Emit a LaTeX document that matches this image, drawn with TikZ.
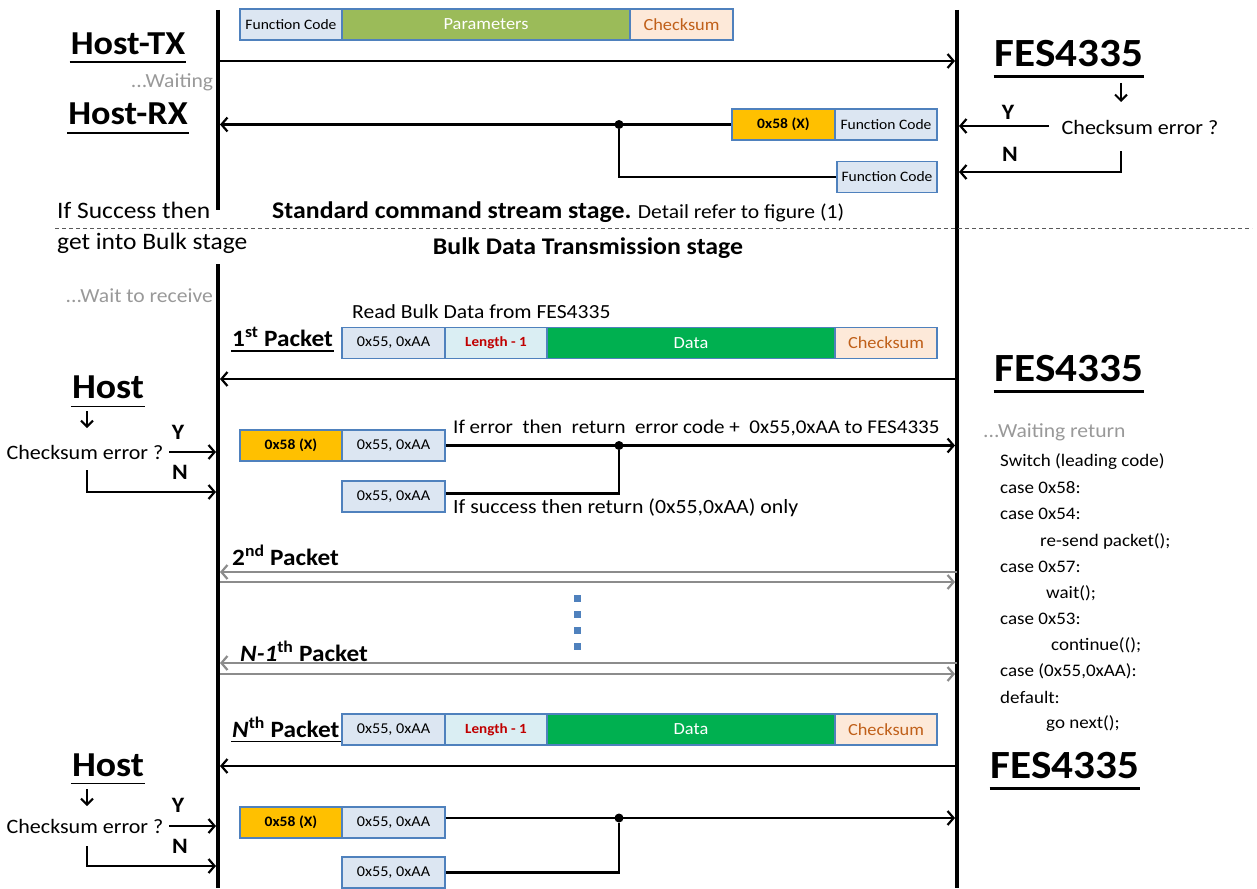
\documentclass[tikz,border=0pt]{standalone}
\usepackage{fontspec}
\setmainfont{Carlito}[FakeStretch=1.08]
\usetikzlibrary{arrows.meta}
\definecolor{cellborder}{HTML}{4F81BD}
\definecolor{fcfill}{HTML}{DCE6F2}
\definecolor{paramfill}{HTML}{9BBB59}
\definecolor{ckfill}{HTML}{FDE9D9}
\definecolor{cktext}{HTML}{C0601A}
\definecolor{lenfill}{HTML}{DAEEF3}
\definecolor{lentext}{HTML}{C00000}
\definecolor{datafill}{HTML}{00B050}
\definecolor{xfill}{HTML}{FFC000}
\definecolor{graytext}{HTML}{999999}
\definecolor{grayline}{HTML}{8C8C8C}
\definecolor{dotblue}{HTML}{4F81BD}
\begin{document}
\begin{tikzpicture}[x=1pt,y=-1pt,
  cell/.style={draw=cellborder,line width=1.6pt,minimum height=31pt,inner sep=0pt,
    font=\fontsize{14.4}{15}\selectfont},
  fccell/.style={cell,fill=fcfill},
  paramcell/.style={cell,fill=paramfill,text=white,font=\fontsize{17}{17}\selectfont},
  ckcell/.style={cell,fill=ckfill,text=cktext,font=\fontsize{17}{17}\selectfont},
  lencell/.style={cell,fill=lenfill,text=lentext,font=\fontsize{14}{14}\selectfont\bfseries},
  datacell/.style={cell,fill=datafill,text=white,font=\fontsize{17}{17}\selectfont},
  xcell/.style={cell,fill=xfill,font=\fontsize{14.4}{15}\selectfont\bfseries},
  aacell/.style={cell,fill=fcfill,font=\fontsize{15}{15}\selectfont},
  lifeline/.style={line width=4.5pt},
  arr/.style={line width=2.2pt,-{Straight Barb[length=6pt,width=14pt,line width=2.2pt]}},
  plainline/.style={line width=2.2pt},
  grayarr/.style={line width=2.2pt,draw=grayline,-{Straight Barb[length=6pt,width=14pt,line width=2.2pt]}},
  downarr/.style={line width=2pt,-{Straight Barb[length=6pt,width=12pt,line width=2pt]}},
  hostlbl/.style={inner sep=1pt,font=\fontsize{33.5}{36}\selectfont\bfseries},
  host2lbl/.style={inner sep=1pt,font=\fontsize{35}{37}\selectfont\bfseries},
  feslbl/.style={inner sep=1pt,font=\fontsize{40}{43}\selectfont\bfseries},
  ulinestyle/.style={line width=1.6pt},
  normtxt/.style={inner sep=0pt,font=\fontsize{20.4}{22}\selectfont},
  codetxt/.style={inner sep=0pt,anchor=west,font=\fontsize{17.6}{20}\selectfont},
  graytxt/.style={inner sep=0pt,text=graytext,font=\fontsize{20}{21}\selectfont},
  yntxt/.style={inner sep=0pt,font=\fontsize{22}{24}\selectfont\bfseries},
  boldtxt/.style={inner sep=0pt,font=\fontsize{23.9}{25}\selectfont\bfseries},
  pkttxt/.style={inner sep=1pt,anchor=west,font=\fontsize{23.4}{25}\selectfont\bfseries},
  jdot/.style={circle,fill=black,inner sep=0pt,minimum size=9pt},
  bdot/.style={fill=dotblue,inner sep=0pt,minimum size=7pt}
]
\useasboundingbox (0,0) rectangle (1257,888);

% lifelines
\coordinate (LT0) at (218,10); \coordinate (LT1) at (218,210);
\coordinate (LB0) at (218,264); \coordinate (LB1) at (218,888);
\coordinate (R0) at (957,10); \coordinate (R1) at (957,888);
\draw[lifeline] (LT0) -- (LT1);
\draw[lifeline] (LB0) -- (LB1);
\draw[lifeline] (R0) -- (R1);

% stage separator
\coordinate (dashA) at (55,228); \coordinate (dashB) at (1252,228);
\draw[line width=1pt,dash pattern=on 4pt off 3pt,draw=black!65] (dashA) -- (dashB);

%% ---------------- Standard command stage ----------------
\node[fccell,minimum width=102pt] (fc1) at (291,24.5) {Function Code};
\node[paramcell,minimum width=288pt] (par1) at (486,24.5) {Parameters};
\node[ckcell,minimum width=103pt] (ck1) at (681.5,24.5) {Checksum};

\node[hostlbl] (htx) at (128,44) {Host-TX};
\draw[ulinestyle] ([yshift=-6pt]htx.south west) -- ([yshift=-6pt]htx.south east);
\node[graytxt] (wait1) at (172,82) {...Waiting};
\node[hostlbl] (hrx) at (128,114) {Host-RX};
\draw[ulinestyle] ([yshift=-7pt]hrx.south west) -- ([yshift=-7pt]hrx.south east);

\coordinate (txL) at (218,61); \coordinate (txR) at (955,61);
\draw[arr] (txL) -- (txR);

\node[xcell,minimum width=103pt] (x58a) at (783.5,124.5) {0x58 (X)};
\node[fccell,minimum width=102pt] (fc2) at (886,124.5) {Function Code};
\node[fccell,minimum width=100pt] (fc3) at (887,177) {Function Code};
\coordinate (rxL) at (220,124.5);
\draw[arr] (x58a.west) -- (rxL);
\node[jdot] (j1) at (619,124.5) {};
\draw[plainline] (j1) |- (fc3.west);

\node[feslbl] (fes1) at (1069,54) {FES4335};
\draw[line width=2.4pt] ([yshift=-8pt]fes1.south west) -- ([yshift=-8pt]fes1.south east);
\coordinate (fesd0) at (1121,83); \coordinate (fesd1) at (1121,102);
\draw[downarr] (fesd0) -- (fesd1);
\node[normtxt] (ce1) at (1140,127) {Checksum error ?};
\coordinate (ce1y) at (1049,126); \coordinate (ce1yR) at (959,126);
\draw[arr] (ce1y) -- (ce1yR);
\node[yntxt] (y1) at (1008,112) {Y};
\node[yntxt] (n1) at (1010,154) {N};
\coordinate (ce1n) at (1121,151); \coordinate (ce1nR) at (959,172);
\draw[arr] (ce1n) |- (ce1nR);

\node[normtxt,anchor=west,font=\fontsize{23.6}{25}\selectfont] (succ) at (57,210) {If Success then};
\node[normtxt,anchor=west,font=\fontsize{23.6}{25}\selectfont] (succ2) at (57,243) {get into Bulk stage};
\node[inner sep=0pt,anchor=west,font=\fontsize{20}{22}\selectfont] (std) at (272,212)
  {{\fontsize{23.9}{25}\selectfont\bfseries Standard command stream stage.} Detail refer to figure (1)};
\node[boldtxt] (bulk) at (588,248) {Bulk Data Transmission stage};

%% ---------------- Bulk stage: 1st packet ----------------
\node[graytxt,anchor=east] (wait2) at (213,296) {...Wait to receive};
\node[normtxt,anchor=west,font=\fontsize{20}{21}\selectfont] (rbd) at (352,312) {Read Bulk Data from FES4335};
\node[pkttxt] (p1) at (231,337) {1\textsuperscript{st} Packet};
\draw[ulinestyle] ([yshift=-3pt]p1.south west) -- ([yshift=-3pt]p1.south east);

\node[aacell,minimum width=103pt] (a1) at (393.5,343) {0x55, 0xAA};
\node[lencell,minimum width=102pt] (len1) at (496,343) {Length - 1};
\node[datacell,minimum width=288pt] (d1) at (691,343) {Data};
\node[ckcell,minimum width=102pt] (ck2) at (886,343) {Checksum};

\coordinate (b1R) at (957,379); \coordinate (b1L) at (220,379);
\draw[arr] (b1R) -- (b1L);

\node[feslbl] (fes2) at (1069,369) {FES4335};
\draw[line width=2.4pt] ([yshift=-8pt]fes2.south west) -- ([yshift=-8pt]fes2.south east);

\node[host2lbl] (host1) at (108,387) {Host};
\draw[ulinestyle] ([yshift=-7pt]host1.south west) -- ([yshift=-7pt]host1.south east);
\coordinate (hd0) at (87,411); \coordinate (hd1) at (87,428);
\draw[downarr] (hd0) -- (hd1);
\node[normtxt] (ce2) at (85,452) {Checksum error ?};
\coordinate (ce2y) at (169,452); \coordinate (ce2yR) at (216,452);
\draw[arr] (ce2y) -- (ce2yR);
\node[yntxt] (y2) at (178,432) {Y};
\node[yntxt] (n2) at (180,472) {N};
\coordinate (ce2n) at (87,470); \coordinate (ce2nR) at (216,492);
\draw[arr] (ce2n) |- (ce2nR);

\node[xcell,minimum width=102pt] (x58b) at (291,445.5) {0x58 (X)};
\node[aacell,minimum width=103pt] (a2) at (393.5,445.5) {0x55, 0xAA};
\node[aacell,minimum width=103pt] (a3) at (393.5,496.5) {0x55, 0xAA};
\coordinate (r1R) at (955,445.5);
\draw[arr] (a2.east) -- (r1R);
\node[jdot] (j2) at (619,445.5) {};
\draw[plainline] (j2) |- ([yshift=3pt]a3.east);
\node[normtxt,anchor=west,font=\fontsize{19.5}{21}\selectfont] (iferr) at (453,428)
  {If error~ then~ return~ error code +~ 0x55,0xAA to FES4335};
\node[normtxt,anchor=west,font=\fontsize{20.2}{21}\selectfont] (ifsuc) at (453,508)
  {If success then return (0x55,0xAA) only};

\node[graytxt,anchor=west] (wret) at (983,432) {...Waiting return};
\node[codetxt] (c1) at (1000,462) {Switch (leading code)};
\node[codetxt] (c2) at (1000,488) {case 0x58:};
\node[codetxt] (c3) at (1000,514) {case 0x54:};
\node[codetxt] (c4) at (1040,541) {re-send packet();};
\node[codetxt] (c5) at (1000,567) {case 0x57:};
\node[codetxt] (c6) at (1046,593) {wait();};
\node[codetxt] (c7) at (1000,619) {case 0x53:};
\node[codetxt] (c8) at (1051,645) {continue(();};
\node[codetxt] (c9) at (1000,671) {case (0x55,0xAA):};
\node[codetxt] (c10) at (1000,697) {default:};
\node[codetxt] (c11) at (1046,724) {go next();};

%% ---------------- 2nd .. N-1th packets ----------------
\node[pkttxt] (p2) at (231,555) {2\textsuperscript{nd} Packet};
\coordinate (g1R) at (957,572); \coordinate (g1L) at (220,572);
\coordinate (g2L) at (220,582); \coordinate (g2R) at (955,582);
\draw[grayarr] (g1R) -- (g1L);
\draw[grayarr] (g2L) -- (g2R);

\node[bdot] (bd1) at (577,598) {};
\node[bdot] (bd2) at (577,614) {};
\node[bdot] (bd3) at (577,630) {};
\node[bdot] (bd4) at (577,646) {};

\node[pkttxt] (p3) at (239,651) {\textit{N-1}\textsuperscript{th} Packet};
\coordinate (g3R) at (957,663); \coordinate (g3L) at (220,663);
\coordinate (g4L) at (220,674); \coordinate (g4R) at (955,674);
\draw[grayarr] (g3R) -- (g3L);
\draw[grayarr] (g4L) -- (g4R);

%% ---------------- Nth packet ----------------
\node[pkttxt] (pn) at (231,727) {\textit{N}\textsuperscript{th} Packet};
\draw[ulinestyle] ([yshift=-3pt]pn.south west) -- ([yshift=-3pt]pn.south east);
\node[aacell,minimum width=103pt] (a4) at (393.5,729.5) {0x55, 0xAA};
\node[lencell,minimum width=102pt] (len2) at (496,729.5) {Length - 1};
\node[datacell,minimum width=288pt] (d2) at (691,729.5) {Data};
\node[ckcell,minimum width=102pt] (ck3) at (886,729.5) {Checksum};

\coordinate (bnR) at (957,766); \coordinate (bnL) at (220,766);
\draw[arr] (bnR) -- (bnL);

\node[feslbl] (fes3) at (1065,766) {FES4335};
\draw[line width=2.4pt] ([yshift=-8pt]fes3.south west) -- ([yshift=-8pt]fes3.south east);

\node[host2lbl] (host2) at (108,765) {Host};
\draw[ulinestyle] ([yshift=-6pt]host2.south west) -- ([yshift=-6pt]host2.south east);
\coordinate (hd2) at (87,789); \coordinate (hd3) at (87,806);
\draw[downarr] (hd2) -- (hd3);
\node[normtxt] (ce3) at (85,826) {Checksum error ?};
\coordinate (ce3y) at (169,826); \coordinate (ce3yR) at (216,826);
\draw[arr] (ce3y) -- (ce3yR);
\node[yntxt] (y3) at (178,805) {Y};
\node[yntxt] (n3) at (180,846) {N};
\coordinate (ce3n) at (87,846); \coordinate (ce3nR) at (216,866);
\draw[arr] (ce3n) |- (ce3nR);

\node[xcell,minimum width=102pt] (x58c) at (291,822.5) {0x58 (X)};
\node[aacell,minimum width=103pt] (a5) at (393.5,822.5) {0x55, 0xAA};
\node[aacell,minimum width=103pt] (a6) at (393.5,872.5) {0x55, 0xAA};
\coordinate (rnR) at (955,818);
\draw[arr] (a5.east |- rnR) -- (rnR);
\node[jdot] (j3) at (619,818) {};
\draw[plainline] (j3) |- (a6.east);
\end{tikzpicture}
\end{document}
